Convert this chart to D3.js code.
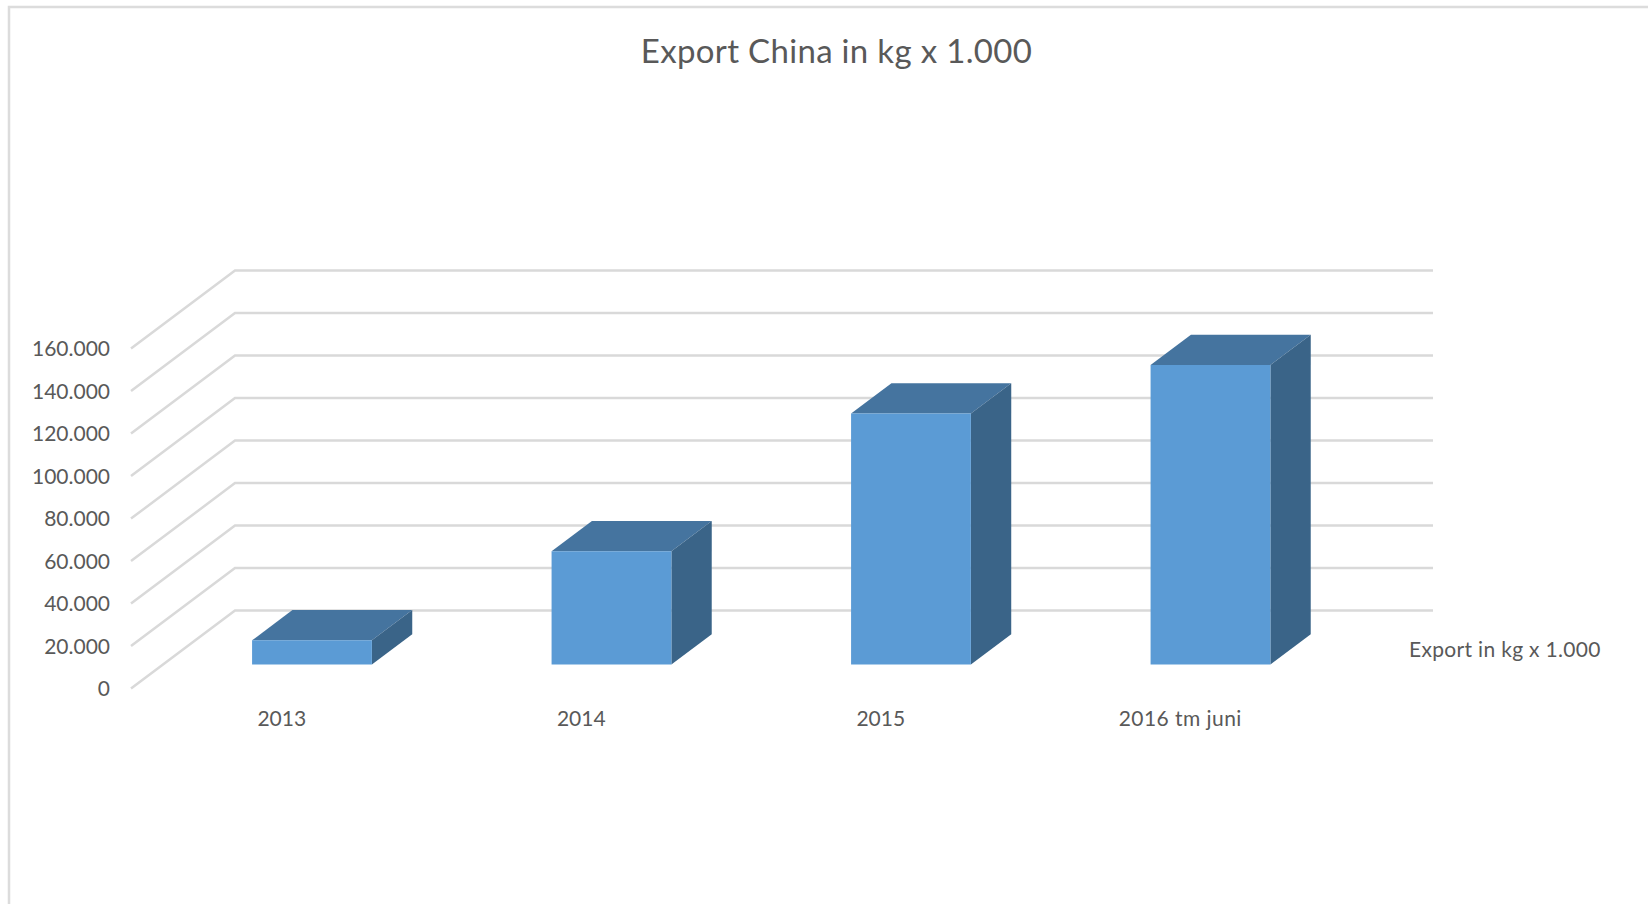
<!DOCTYPE html>
<html lang="en">
<head>
  <meta charset="UTF-8">
  <title>Export China in kg x 1.000</title>
  <script src="https://d3js.org/d3.v7.min.js"></script>
  <style>
    html, body { margin: 0; padding: 0; background: #fff; }
    svg { display: block; }
    text { font-family: Lato, "Open Sans", sans-serif; fill: #595959; }
  </style>
</head>
<body>
  <svg width="1648" height="904"></svg>

  <script>
    // data
    const categories = ["2013", "2014", "2015", "2016 tm juni"];
    const exportKg = [11400, 53300, 118100, 141000];
    const yTicks = [0, 20000, 40000, 60000, 80000, 100000, 120000, 140000, 160000];
    const titleText = "Export China in kg x 1.000";
    const seriesName = "Export in kg x 1.000";

    const svg = d3.select("svg");

    // dutch number format, 160.000
    const nl = d3.formatLocale({ decimal: ",", thousands: ".", grouping: [3], currency: ["€", ""] });

    // front plane of the fake 3d box
    const y = d3.scaleLinear().domain([0, 160000]).range([688.6, 348.6]);
    const x = d3.scaleBand().domain(categories).range([131, 1329]).paddingInner(0.6).paddingOuter(0.3);
    const xBar = d3.scaleBand().domain(categories).range([130.2, 1328.2]).paddingInner(0.6).paddingOuter(0.3);
    const xLabel = d3.scaleBand().domain(categories).range([132, 1330]);

    // depth goes 0 (front) to 1 (back wall)
    const depthX = d3.scaleLinear().domain([0, 1]).range([0, 104]);
    const depthY = d3.scaleLinear().domain([0, 1]).range([0, -78]);
    const barFront = 0.308, barBack = 0.696;

    const pt = (px, v, z) => [px + depthX(z), y(v) + depthY(z)];
    const poly = pts => pts.map(p => p.join(",")).join(" ");

    // outer frame, only top and left are in the picture
    svg.append("path")
       .attr("d", "M1648,7H9V904")
       .attr("fill", "none")
       .attr("stroke", "#dcdcdc")
       .attr("stroke-width", 2.5);

    // gridlines: side wall + back wall
    const xEnd = x.range()[1];
    svg.append("g").selectAll("polyline")
       .data(yTicks)
       .enter().append("polyline")
       .attr("points", d => poly([pt(x.range()[0], d, 0), pt(x.range()[0], d, 1), pt(xEnd, d, 1)]))
       .attr("fill", "none")
       .attr("stroke", "#d9d9d9")
       .attr("stroke-width", 2.5);

    // bars
    const bars = svg.append("g").selectAll("g")
       .data(categories.map((c, i) => ({ cat: c, value: exportKg[i] })))
       .enter().append("g");

    bars.append("polygon") // top
        .attr("points", d => {
          const l = xBar(d.cat), r = l + xBar.bandwidth();
          return poly([pt(l, d.value, barFront), pt(r, d.value, barFront), pt(r, d.value, barBack), pt(l, d.value, barBack)]);
        })
        .attr("fill", "#45749f");

    bars.append("polygon") // right side
        .attr("points", d => {
          const r = xBar(d.cat) + xBar.bandwidth();
          return poly([pt(r, 0, barFront), pt(r, d.value, barFront), pt(r, d.value, barBack), pt(r, 0, barBack)]);
        })
        .attr("fill", "#3a6488");

    bars.append("polygon") // front
        .attr("points", d => {
          const l = xBar(d.cat), r = l + xBar.bandwidth();
          return poly([pt(l, 0, barFront), pt(r, 0, barFront), pt(r, d.value, barFront), pt(l, d.value, barFront)]);
        })
        .attr("fill", "#5b9bd5");

    // axes
    const yAxis = d3.axisLeft(y).tickValues(yTicks).tickFormat(nl.format(",d")).tickSize(0).tickPadding(21);
    const gy = svg.append("g").attr("transform", "translate(131,0)").call(yAxis);
    gy.select(".domain").remove();
    gy.selectAll("text").attr("font-size", 21).attr("dy", "0.34em");
    gy.attr("font-family", null).attr("font-size", null);

    const xAxis = d3.axisBottom(xLabel).tickSize(0).tickPadding(0);
    const gx = svg.append("g").attr("transform", "translate(0,726)").call(xAxis);
    gx.select(".domain").remove();
    gx.selectAll("text").attr("font-size", 21).attr("dy", 0).attr("y", 0);
    gx.selectAll("text").filter(d => d.length > 4).attr("letter-spacing", 0.45);
    gx.attr("font-family", null).attr("font-size", null);

    // title and series name
    svg.append("text")
       .attr("x", 836.5)
       .attr("y", 63)
       .attr("text-anchor", "middle")
       .attr("font-size", 33)
       .attr("letter-spacing", 0.32)
       .text(titleText);

    svg.append("text")
       .attr("x", 1409)
       .attr("y", 657)
       .attr("font-size", 21)
       .attr("letter-spacing", 0.32)
       .text(seriesName);
  </script>
</body>
</html>
